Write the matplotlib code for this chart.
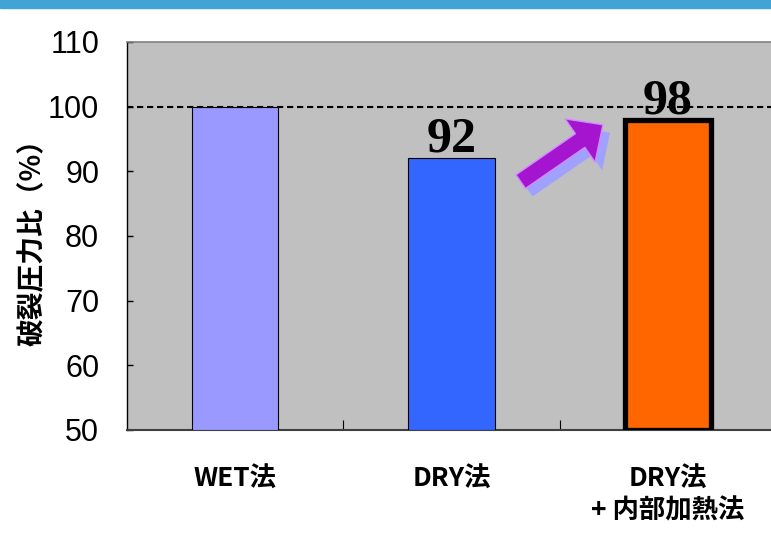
import matplotlib.pyplot as plt
import matplotlib.transforms as mtransforms
from matplotlib.patches import FancyArrowPatch, Rectangle
import numpy as np

plt.rcParams['font.family'] = ['Noto Sans CJK JP', 'DejaVu Sans']

# data
categories = ['WET法', 'DRY法', 'DRY法\n+ 内部加熱法']
ratios = [100, 92, 98]
bar_colors = ['#9999ff', '#3366ff', '#ff6600']
edge_widths = [0.8, 0.8, 3.8]
value_labels = [None, '92', '98']
reference_level = 100

fig = plt.figure(figsize=(7.71, 5.36), dpi=100)
fig.patches.append(Rectangle((0, 0.986), 1, 0.014, transform=fig.transFigure,
                             color='#42a3d6', zorder=0))

ax = fig.add_axes([0.1647, 0.1978, 0.8418, 0.7239])
ax.set_facecolor('#c0c0c0')

x = np.arange(len(categories))
ax.bar(x, [r - 50 for r in ratios], bottom=50, width=0.4, color=bar_colors,
       edgecolor='black', linewidth=edge_widths, zorder=3)

ax.axhline(reference_level, color='black', linestyle=(0, (3, 1.8)), linewidth=1.5, zorder=4)

for xi, r, lab in zip(x, ratios, value_labels):
    if lab is None:
        continue
    y = r + 1 if r + 1 < reference_level else reference_level + 0.5
    ax.text(xi, y, lab, ha='center', va='baseline', fontsize=36, fontweight='bold',
            family='Liberation Serif', zorder=5)

# arrow pointing toward the improved bar
tail = (x[2] - 0.68, 88.4)
tip = (x[2] - 0.30, 97.2)
shadow_tr = mtransforms.offset_copy(ax.transData, fig=fig, x=7, y=-8, units='dots')
style = 'simple,head_length=1.0,head_width=1.9,tail_width=0.6'
ax.add_patch(FancyArrowPatch(tail, tip, arrowstyle=style, mutation_scale=20,
                             transform=shadow_tr, color='#a0a0ff', linewidth=0,
                             shrinkA=0, shrinkB=0, zorder=5))
ax.add_patch(FancyArrowPatch(tail, tip, arrowstyle=style, mutation_scale=20,
                             facecolor='#a515d0', edgecolor='#d08cff', linewidth=1.0,
                             shrinkA=0, shrinkB=0, zorder=6))

ax.set_xlim(-0.5, 2.5)
ax.set_ylim(50, 110)
ax.set_yticks(np.arange(50, 111, 10))
ax.set_xticks(x)
ax.set_xticklabels(categories, fontsize=19, fontweight='bold', linespacing=1.2)
ax.set_xticks([0.5, 1.5], minor=True)
ax.tick_params(axis='x', which='major', length=0, pad=26)
ax.tick_params(axis='x', which='minor', direction='in', length=7, width=0.8)
ax.tick_params(axis='y', direction='in', length=4, width=1, labelsize=22, pad=20)
for t in ax.get_yticklabels():
    t.set_family('Liberation Sans')
    t.set_horizontalalignment('right')

ax.spines['top'].set_color('#808080')
ax.spines['top'].set_linewidth(1.2)
ax.spines['left'].set_color('black')
ax.spines['left'].set_linewidth(1.0)
ax.spines['bottom'].set_color('#404040')
ax.spines['bottom'].set_linewidth(1.5)
ax.spines['right'].set_visible(False)

ax.set_ylabel('破裂圧力比（%）', fontsize=20, fontweight='bold')
ax.yaxis.set_label_coords(-0.124, 0.5)

fig.savefig('out.png', dpi=100)
